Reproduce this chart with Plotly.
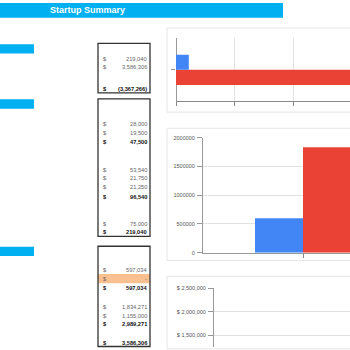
import plotly.graph_objects as go

# ---------------- data ----------------
summary_values = [219040, 3586306, -3367266]
summary_bold = [False, False, True]

requirements_values = [28000, 19500, 47500, 53540, 21750, 21250, 96540, 75000, 219040]
requirements_bold = [False, False, True, False, False, False, True, False, True]

funding_values = [597034, 0, 597034, 1834271, 1155000, 2989271, 3586306]
funding_bold = [False, False, True, False, False, True, True]
funding_highlight = [False, True, False, False, False, False, False]

chart1_categories = ["Startup"]
chart1_blue = [219040]
chart1_red = [3586306]

chart2_categories = ["Funding"]
chart2_blue = [597034]
chart2_red = [1834271]

chart2_ticks = [0, 500000, 1000000, 1500000, 2000000]
chart3_ticks = [1500000, 2000000, 2500000]

title_text = "Startup Summary"

# ---------------- layout helpers ----------------
W = H = 350
def px(x): return x / W
def py(y): return 1 - y / H

def fmt(v):
    if v == 0:
        return "-"
    if v < 0:
        return "({:,})".format(-v)
    return "{:,}".format(v)

BLUE = "#4285F4"
RED = "#EA4335"
CYAN = "#00B0F0"
FONT = "Liberation Sans, Arial, sans-serif"
GRID = "#e2e2e2"

fig = go.Figure()

# chart 1: horizontal grouped bars
fig.add_trace(go.Bar(y=chart1_categories, x=chart1_red, orientation="h",
                     marker=dict(color=RED, line=dict(width=0)), xaxis="x", yaxis="y"))
fig.add_trace(go.Bar(y=chart1_categories, x=chart1_blue, orientation="h",
                     marker=dict(color=BLUE, line=dict(width=0)), xaxis="x", yaxis="y"))
# chart 2: vertical grouped bars
fig.add_trace(go.Bar(x=chart2_categories, y=chart2_blue,
                     marker=dict(color=BLUE, line=dict(width=0)), xaxis="x2", yaxis="y2"))
fig.add_trace(go.Bar(x=chart2_categories, y=chart2_red,
                     marker=dict(color=RED, line=dict(width=0)), xaxis="x2", yaxis="y2"))
# chart 3: empty axes (no marks visible in the reference)
fig.add_trace(go.Scatter(x=[None], y=[None], mode="markers", xaxis="x3", yaxis="y3",
                         hoverinfo="skip"))

shapes = []
annotations = []

# header band
shapes.append(dict(type="rect", xref="paper", yref="paper", x0=px(0), x1=px(283),
                   y0=py(15), y1=py(0), fillcolor=CYAN, line=dict(width=0), layer="below"))
annotations.append(dict(text="<b>" + title_text + "</b>", xref="paper", yref="paper",
                        x=px(87), y=py(7.5), xanchor="center", yanchor="middle", showarrow=False,
                        font=dict(family=FONT, size=9, color="white")))

# left cyan labels
for (y0, y1) in [(42, 51.5), (98, 107.5), (248, 257.5)]:
    shapes.append(dict(type="rect", xref="paper", yref="paper", x0=px(0), x1=px(34),
                       y0=py(y1), y1=py(y0), fillcolor=CYAN, line=dict(width=0), layer="below"))

# chart panels
for (y0, y1) in [(25.5, 111), (127.5, 262), (278, 352)]:
    shapes.append(dict(type="rect", xref="paper", yref="paper", x0=px(167), x1=px(352),
                       y0=py(y1), y1=py(y0), fillcolor="rgba(0,0,0,0)",
                       line=dict(width=1, color="#e6e6e6"), layer="below"))

# tables
def table(box, rows_y, values, bold, highlight=None):
    x0, y0, x1, y1 = box
    if highlight:
        for ry, h in zip(rows_y, highlight):
            if h:
                shapes.append(dict(type="rect", xref="paper", yref="paper", x0=px(x0), x1=px(x1),
                                   y0=py(ry + 4.7), y1=py(ry - 4.7), fillcolor="#FAC090",
                                   line=dict(width=0), layer="below"))
    shapes.append(dict(type="rect", xref="paper", yref="paper", x0=px(x0), x1=px(x1),
                       y0=py(y1), y1=py(y0), fillcolor="rgba(0,0,0,0)",
                       line=dict(width=1.3, color="#333333")))
    for ry, v, b in zip(rows_y, values, bold):
        col = "#111111" if b else "#666666"
        t = fmt(v)
        if b:
            t = "<b>" + t + "</b>"
        annotations.append(dict(text="<b>$</b>" if b else "$", xref="paper", yref="paper",
                                x=px(100.5), y=py(ry), xanchor="left", yanchor="middle",
                                showarrow=False, font=dict(family=FONT, size=5.7, color=col)))
        annotations.append(dict(text=t, xref="paper", yref="paper",
                                x=px(148.5), y=py(ry), xanchor="right", yanchor="middle",
                                showarrow=False, font=dict(family=FONT, size=5.7, color=col)))

table((98, 41, 150, 91.5), [57, 65, 87.5], summary_values, summary_bold)
table((98, 97.5, 150, 237.5), [123.5, 132.3, 141, 169.7, 178.5, 187.7, 197, 225, 233.3],
      requirements_values, requirements_bold)
table((98, 247.5, 150, 349.5), [271.3, 280.5, 290, 309, 318, 327, 345.5],
      funding_values, funding_bold, funding_highlight)

axis_font = dict(family=FONT, size=5.5, color="#555555")

fig.update_layout(
    width=W, height=H, margin=dict(l=0, r=0, t=0, b=0),
    paper_bgcolor="white", plot_bgcolor="white",
    showlegend=False, barmode="group", bargap=0.52, bargroupgap=0,
    shapes=shapes, annotations=annotations,
    # chart 1
    xaxis=dict(domain=[px(176), 1], anchor="y", range=[0, 2.974e6], dtick=1e6, tick0=0,
               showgrid=True, gridcolor=GRID, gridwidth=1, zeroline=True,
               zerolinecolor="#999999", zerolinewidth=1,
               showline=True, linecolor="#888888", linewidth=1,
               ticks="outside", ticklen=4, tickcolor="#888888", showticklabels=False),
    yaxis=dict(domain=[py(100), py(36)], anchor="x", range=[-0.5, 0.5],
               showgrid=False, zeroline=False, showline=False,
               ticks="outside", ticklen=4, tickcolor="#999999", showticklabels=False),
    # chart 2
    xaxis2=dict(domain=[px(203), 1], anchor="y2", range=[-0.5, 0.235],
                showgrid=False, zeroline=False, showline=True, linecolor="#999999", linewidth=1,
                ticks="outside", ticklen=4, tickcolor="#888888", showticklabels=False),
    yaxis2=dict(domain=[py(254), py(137)], anchor="x2", range=[0, 2000000],
                tickvals=chart2_ticks, ticktext=[str(t) for t in chart2_ticks],
                tickfont=axis_font,
                showgrid=True, gridcolor=GRID, zeroline=False,
                showline=True, linecolor="#999999", linewidth=1,
                ticks="outside", ticklen=5, tickcolor="#999999", ticklabelstandoff=1),
    # chart 3
    xaxis3=dict(domain=[px(214), 1], anchor="y3", range=[0, 1],
                showgrid=False, zeroline=False, showline=False, showticklabels=False, ticks=""),
    yaxis3=dict(domain=[0, py(290)], anchor="x3", range=[1250000, 2500000],
                tickvals=chart3_ticks, ticktext=["$ {:,}".format(t) for t in chart3_ticks],
                tickfont=axis_font,
                showgrid=True, gridcolor=GRID, zeroline=False,
                showline=True, linecolor="#999999", linewidth=1,
                ticks="outside", ticklen=5, tickcolor="#999999", ticklabelstandoff=1),
)

fig.write_html("out.html")
